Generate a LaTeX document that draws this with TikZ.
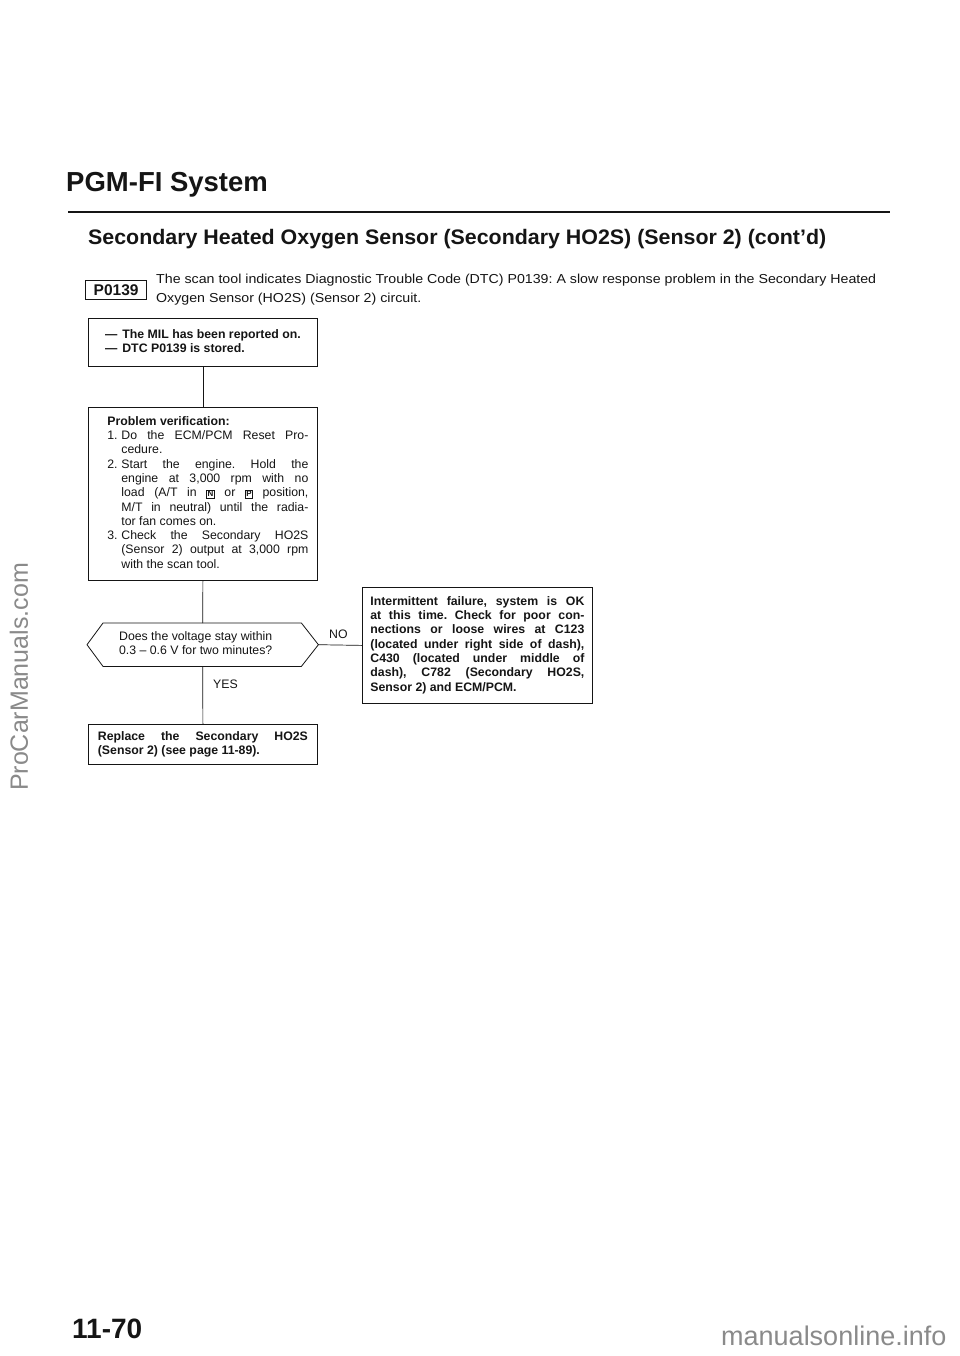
\documentclass[tikz,border=0pt]{standalone}
\usepackage{fontspec}
\usepackage{graphicx}
\setmainfont{Liberation Sans}
\newfontfamily\boxfam{Liberation Sans}
\usetikzlibrary{calc}
\definecolor{ink}{HTML}{151515}
\definecolor{wmgray}{HTML}{8A8A8A}
\frenchspacing
\newcommand\bxtext{\boxfam\fontsize{12.3}{14.3}\selectfont}
\newcommand\ItemL[2]{\makebox[14pt][l]{#1}#2}
\newcommand\Cont[1]{\hspace*{14pt}#1}
\newcommand\Jw[2]{\makebox[#1][s]{#2}}
\newcommand\keybox[1]{{\setlength\fboxsep{0.8pt}\setlength\fboxrule{0.5pt}\fbox{\fontsize{8}{8}\selectfont\bfseries #1}}}
\begin{document}
\begin{tikzpicture}[x=1pt,y=-1pt,
  every node/.style={text=ink},
  box/.style={draw=ink, line width=0.8pt, rectangle, inner sep=0pt, anchor=north west},
  conn/.style={draw=ink, line width=0.7pt},
  lbl/.style={inner sep=0pt, font=\bxtext}
]
\useasboundingbox (0,0) rectangle (960,1356);
\fill[white] (0,0) rectangle (960,1356);

% page header
\node[anchor=base west, inner sep=0pt] (title) at (66,192)
  {\fontsize{27.5}{30}\selectfont\bfseries PGM-FI System};
\coordinate (ruleL) at (68,212);
\coordinate (ruleR) at (890,212);
\draw[ink, line width=2pt] (ruleL) -- (ruleR);

\node[anchor=base west, inner sep=0pt] (head) at (88,244)
  {\resizebox{738pt}{\height}{\fontsize{21}{24}\selectfont\bfseries Secondary Heated Oxygen Sensor (Secondary HO2S) (Sensor 2) (cont’d)}};

\node[draw=ink, line width=1.3pt, minimum width=61pt, minimum height=19pt, anchor=north west, inner sep=0pt] (code) at (85,280)
  {\fontsize{15.5}{15.5}\selectfont\bfseries P0139};

\node[anchor=base west, inner sep=0pt] (desc) at (156,283)
  {\resizebox{720pt}{\height}{\fontsize{13}{19}\selectfont\begin{tabular}[t]{@{}l@{}}The scan tool indicates Diagnostic Trouble Code (DTC) P0139: A slow response problem in the Secondary Heated\\Oxygen Sensor (HO2S) (Sensor 2) circuit.\end{tabular}}};

% flowchart
\node[box, minimum width=229pt, minimum height=48pt] (b1) at (88,318)
  {\bxtext\bfseries\begin{tabular}{@{}l@{}}—\hspace{5pt}The MIL has been reported on.\\—\hspace{5pt}DTC P0139 is stored.\end{tabular}};

\node[box, minimum width=229pt, minimum height=173pt] (b2) at (88,407)
  {\hspace*{10pt}\bxtext\begin{tabular}{@{}l@{}}
  \textbf{Problem verification:}\\
  \ItemL{1.}{\Jw{187pt}{Do the ECM/PCM Reset Pro-}}\\
  \Cont{cedure.}\\
  \ItemL{2.}{\Jw{187pt}{Start the engine. Hold the}}\\
  \Cont{\Jw{187pt}{engine at 3,000 rpm with no}}\\
  \Cont{\Jw{187pt}{load (A/T in \keybox{N} or \keybox{P} position,}}\\
  \Cont{\Jw{187pt}{M/T in neutral) until the radia-}}\\
  \Cont{tor fan comes on.}\\
  \ItemL{3.}{\Jw{187pt}{Check the Secondary HO2S}}\\
  \Cont{\Jw{187pt}{(Sensor 2) output at 3,000 rpm}}\\
  \Cont{with the scan tool.}
  \end{tabular}};

\node[minimum width=231pt, minimum height=43pt, inner sep=0pt, anchor=north west] (dec) at (87,623)
  {\bxtext\begin{tabular}{@{}l@{}}Does the voltage stay within\\0.3 – 0.6 V for two minutes?\end{tabular}\hspace*{14pt}};
\draw[ink, line width=0.8pt] (dec.west) -- ($(dec.north west)+(16,0)$) -- ($(dec.north east)+(-17,0)$)
  -- (dec.east) -- ($(dec.south east)+(-17,0)$) -- ($(dec.south west)+(16,0)$) -- cycle;

\node[box, minimum width=230pt, minimum height=116pt] (b3) at (362,587)
  {\bxtext\bfseries\begin{tabular}{@{}l@{}}
  \Jw{214pt}{Intermittent failure, system is OK}\\
  \Jw{214pt}{at this time. Check for poor con-}\\
  \Jw{214pt}{nections or loose wires at C123}\\
  \Jw{214pt}{(located under right side of dash),}\\
  \Jw{214pt}{C430 (located under middle of}\\
  \Jw{214pt}{dash), C782 (Secondary HO2S,}\\
  Sensor 2) and ECM/PCM.
  \end{tabular}};

\node[box, minimum width=229pt, minimum height=40pt] (b4) at (88,724)
  {\bxtext\bfseries\begin{tabular}{@{}l@{}}
  \Jw{210pt}{Replace the Secondary HO2S}\\
  (Sensor 2) (see page 11-89).
  \end{tabular}};

\draw[conn] (b1.south) -- (b2.north);
\draw[conn] (b2.south) -- (dec.north);
\draw[conn] (dec.south) -- (b4.north);
\draw[conn] (dec.east) -- (b3.west);

\node[lbl, anchor=base west] (no) at (329,638) {NO};
\node[lbl, anchor=base west] (yes) at (213,688) {YES};

% footer and watermarks
\node[anchor=base west, inner sep=0pt] (pageno) at (72,1338)
  {\fontsize{28}{30}\selectfont\bfseries 11-70};
\node[anchor=base west, inner sep=0pt, text=wmgray] (wm2) at (721,1345)
  {\fontsize{27}{30}\selectfont manualsonline.info};
\node[rotate=90, inner sep=0pt, text=wmgray] (wm1) at (19,677)
  {\fontsize{25}{30}\selectfont ProCarManuals.com};
\end{tikzpicture}
\end{document}
